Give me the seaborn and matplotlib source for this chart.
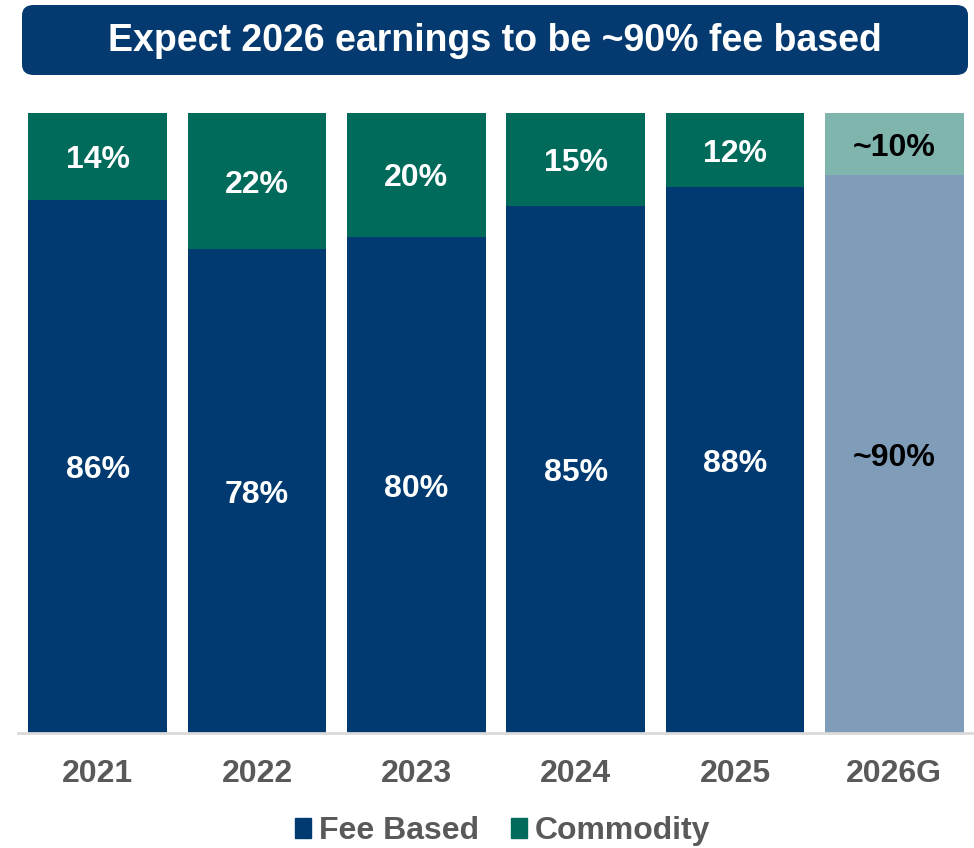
import matplotlib
matplotlib.use("Agg")
import matplotlib.pyplot as plt
from matplotlib.patches import FancyBboxPatch, Rectangle
import seaborn as sns
import pandas as pd

years = ["2021", "2022", "2023", "2024", "2025", "2026G"]
fee_based = [86, 78, 80, 85, 88, 90]
commodity = [14, 22, 20, 15, 12, 10]
fee_labels = ["86%", "78%", "80%", "85%", "88%", "~90%"]
com_labels = ["14%", "22%", "20%", "15%", "12%", "~10%"]
title = "Expect 2026 earnings to be ~90% fee based"

NAVY = "#003A70"
TEAL = "#006A5B"
NAVY_L = "#7F9DB8"
TEAL_L = "#7FB5AD"
GREY = "#595959"

sns.set_theme(style="white")
plt.rcParams["font.family"] = ["Liberation Sans", "DejaVu Sans"]

df = pd.DataFrame({"year": years, "fee": fee_based, "com": commodity})
df["total"] = df["fee"] + df["com"]

fig = plt.figure(figsize=(9.74, 8.48), dpi=100)
ax = fig.add_axes([18 / 974, 1 - 733 / 848, 956 / 974, 620 / 848])

com_pal = {y: (TEAL_L if y.endswith("G") else TEAL) for y in years}
fee_pal = {y: (NAVY_L if y.endswith("G") else NAVY) for y in years}

sns.barplot(data=df, x="year", y="total", hue="year", palette=com_pal,
            order=years, width=0.87, legend=False, ax=ax, saturation=1,
            linewidth=0)
sns.barplot(data=df, x="year", y="fee", hue="year", palette=fee_pal,
            order=years, width=0.87, legend=False, ax=ax, saturation=1,
            linewidth=0)

for i, y in enumerate(years):
    proj = y.endswith("G")
    col = "black" if proj else "white"
    f = fee_based[i]
    c = commodity[i]
    ax.text(i, f / 2, fee_labels[i], ha="center", va="center_baseline", color=col,
            fontsize=23, fontweight="bold")
    ax.text(i, f + c / 2, com_labels[i], ha="center", va="center_baseline", color=col,
            fontsize=23, fontweight="bold")

ax.set_xlim(-0.5, 5.5)
ax.set_ylim(0, 100)
ax.set_xlabel("")
ax.set_ylabel("")
ax.set_yticks([])
for s in ["top", "right", "left"]:
    ax.spines[s].set_visible(False)
ax.spines["bottom"].set_color("#D9D9D9")
ax.spines["bottom"].set_linewidth(2)
ax.tick_params(axis="x", length=0, pad=19, labelsize=23, labelcolor=GREY)
for lab in ax.get_xticklabels():
    lab.set_fontweight("bold")

# Title box
box = FancyBboxPatch((22 / 974, 1 - 75 / 848), 946 / 974, 70 / 848,
                     boxstyle="round,pad=0,rounding_size=0.012",
                     transform=fig.transFigure, facecolor="#043A6F",
                     edgecolor="none")
fig.patches.append(box)
fig.text(495 / 974, 1 - 41 / 848, title, ha="center", va="center",
         color="white", fontsize=27, fontweight="bold")

# Legend
handles = [Rectangle((0, 0), 1, 1, color=NAVY), Rectangle((0, 0), 1, 1, color=TEAL)]
leg = fig.legend(handles, ["Fee Based", "Commodity"], loc="center",
                 bbox_to_anchor=(503 / 974, 1 - 831 / 848), ncol=2, frameon=False,
                 handlelength=0.5, handleheight=0.6, handletextpad=0.25,
                 columnspacing=1.0, prop={"size": 23, "weight": "bold"})
for t in leg.get_texts():
    t.set_color(GREY)

fig.savefig("out.png", dpi=100)
